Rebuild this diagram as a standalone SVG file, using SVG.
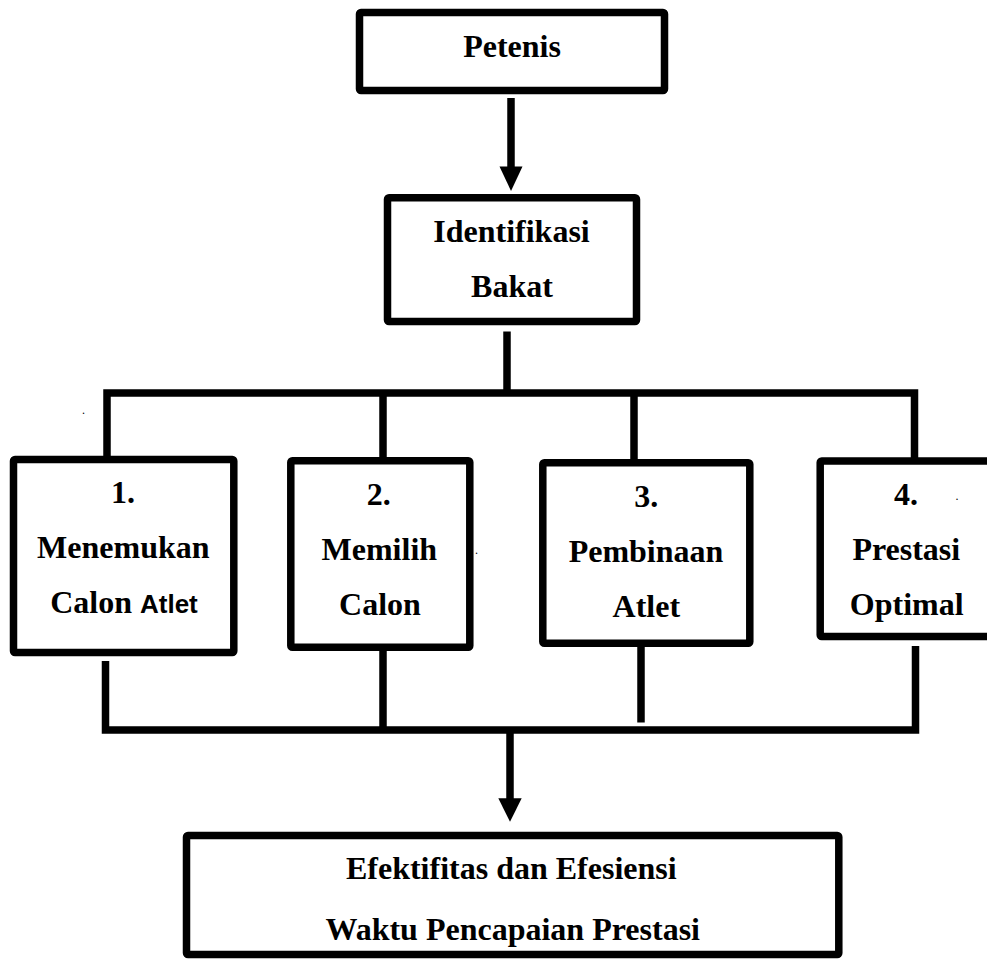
<svg xmlns="http://www.w3.org/2000/svg" width="987" height="960" viewBox="0 0 987 960">
<style>
.box{fill:#fff;stroke:#000;stroke-width:7.5;stroke-linejoin:round}
.ln{fill:none;stroke:#000;stroke-width:7.5;stroke-linejoin:miter;stroke-linecap:butt}
.t{font-family:"Liberation Serif","Times New Roman",serif;font-weight:bold;font-size:32px;fill:#000;text-anchor:middle}
.s{font-family:"Liberation Sans",Arial,sans-serif;font-weight:bold;font-size:26px}
.dot{font-family:"Liberation Serif",serif;font-size:12px;fill:#000}
</style>
<rect width="987" height="960" fill="#fff"/>
<g id="connectors">
<line class="ln" x1="511" y1="98" x2="511" y2="168"/>
<polygon points="499.5,166.5 522.5,166.5 511,191" fill="#000"/>
<line class="ln" x1="507" y1="331.5" x2="507" y2="393"/>
<path class="ln" d="M107,456 V393 H914.5 V458"/>
<line class="ln" x1="383" y1="393" x2="383" y2="458"/>
<line class="ln" x1="634" y1="393" x2="634" y2="460"/>
<path class="ln" d="M105.5,661 V730 H915.5 V646"/>
<line class="ln" x1="383" y1="650" x2="383" y2="730"/>
<line class="ln" x1="641" y1="646" x2="641" y2="722.5"/>
<line class="ln" x1="510" y1="730" x2="510" y2="800"/>
<polygon points="498.3,798.3 521.7,798.3 510,821.7" fill="#000"/>
</g>
<g id="petenis">
<rect class="box" x="359.5" y="12.5" width="305" height="78" rx="1.5"/>
<text class="t" x="512" y="57">Petenis</text>
</g>
<g id="identifikasi">
<rect class="box" x="387.5" y="197.8" width="249" height="123.7" rx="1.5"/>
<text class="t" x="511.5" y="241.7">Identifikasi</text>
<text class="t" x="512" y="296.7">Bakat</text>
</g>
<g id="box1">
<rect class="box" x="13.5" y="459.5" width="220.3" height="193" rx="1.5"/>
<text class="t" x="123" y="503.3">1.</text>
<text class="t" x="123.3" y="558.3">Menemukan</text>
<text class="t" x="124" y="612.7">Calon <tspan class="s">Atlet</tspan></text>
</g>
<g id="box2">
<rect class="box" x="290.8" y="460.8" width="179" height="186.4" rx="1.5"/>
<text class="t" x="378.7" y="505">2.</text>
<text class="t" x="379.3" y="560">Memilih</text>
<text class="t" x="380" y="615">Calon</text>
</g>
<g id="box3">
<rect class="box" x="542.8" y="462.8" width="207" height="180.4" rx="1.5"/>
<text class="t" x="646.2" y="506.7">3.</text>
<text class="t" x="646" y="561.7">Pembinaan</text>
<text class="t" x="646.3" y="616.7">Atlet</text>
</g>
<g id="box4">
<rect class="box" x="820.2" y="461" width="175" height="175.5" rx="1.5"/>
<text class="t" x="906" y="505">4.</text>
<text class="t" x="906.3" y="560">Prestasi</text>
<text class="t" x="906.7" y="615">Optimal</text>
</g>
<g id="hasil">
<rect class="box" x="186.5" y="835.5" width="652.3" height="119" rx="1.5"/>
<text class="t" x="511.3" y="879.3">Efektifitas dan Efesiensi</text>
<text class="t" x="512.7" y="940">Waktu Pencapaian Prestasi</text>
</g>
<g id="dots">
<text class="dot" x="82" y="414">.</text>
<text class="dot" x="475" y="554">.</text>
<text class="dot" x="955.5" y="499.5">.</text>
</g>
</svg>
